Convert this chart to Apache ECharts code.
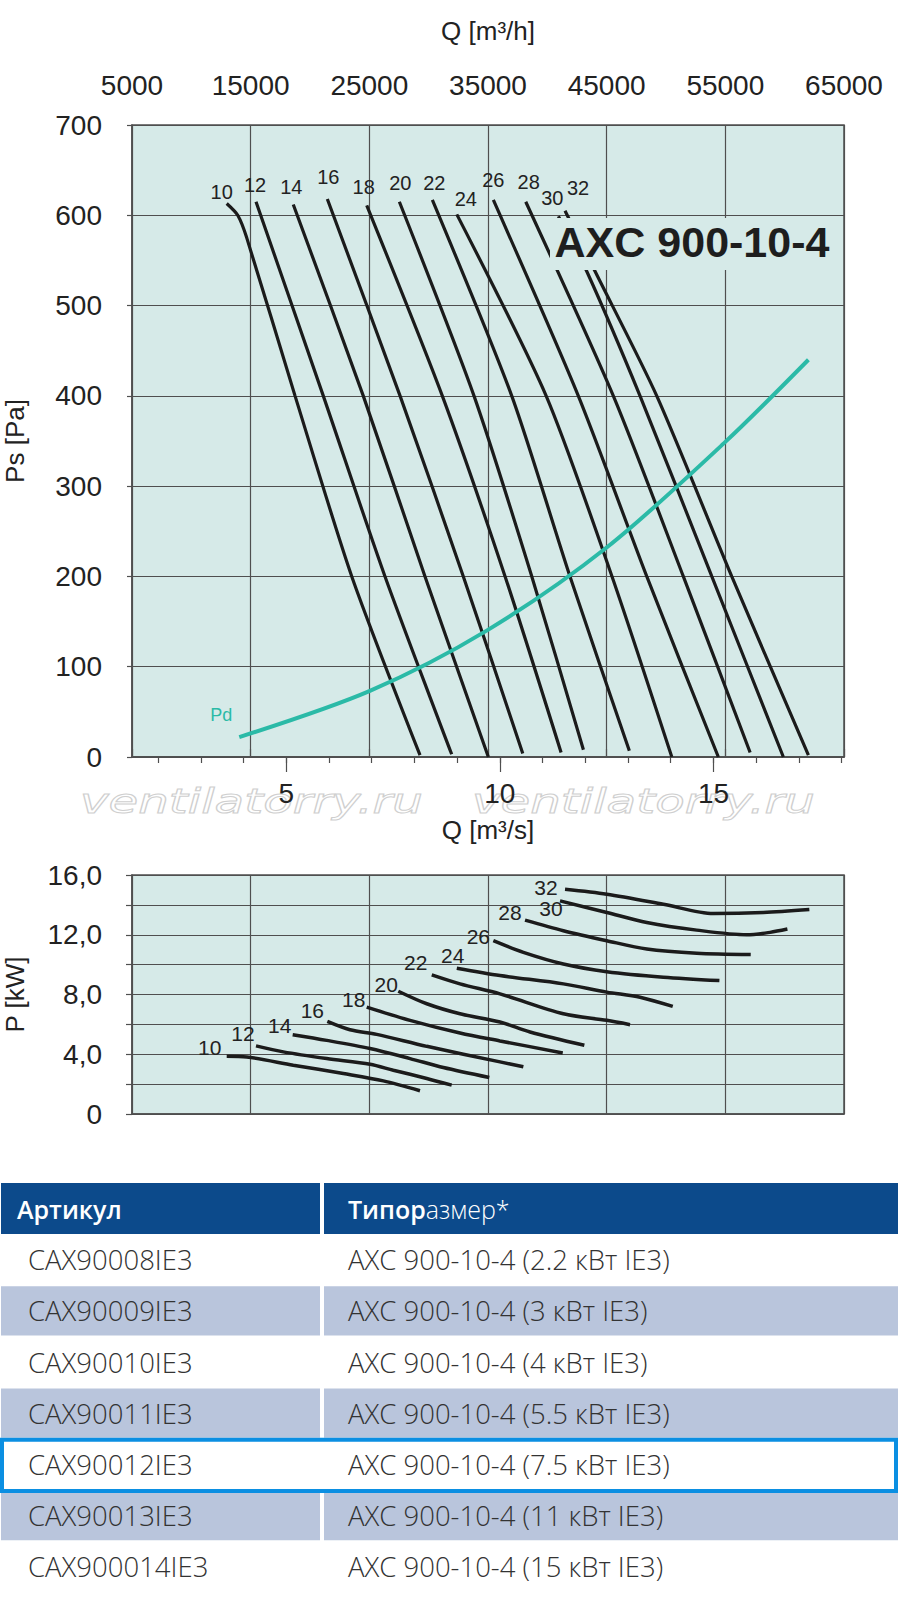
<!DOCTYPE html>
<html>
<head>
<meta charset="utf-8">
<script src="https://cdn.jsdelivr.net/npm/echarts@6/dist/echarts.min.js"></script>
<style>
  html, body { margin: 0; padding: 0; background: #fff; }
  #container { width: 900px; height: 1603px; }
</style>
</head>
<body>
<div id="container"></div>
<script>
// rpm-step curve names
var speeds = ["10", "12", "14", "16", "18", "20", "22", "24", "26", "28", "30", "32"];

// static pressure curves, [Q m3/h, Ps Pa]
var ps10 = [[12980, 613], [13910, 600], [14670, 575], [18740, 400], [23520, 200], [29270, 2]];
var ps12 = [[15450, 615], [21120, 400], [26320, 200], [31940, 3]];
var ps14 = [[18590, 612], [24490, 400], [29690, 200], [35030, 0]];
var ps16 = [[21460, 618], [27590, 400], [32920, 200], [37930, 4]];
var ps18 = [[24780, 611], [31150, 400], [36440, 200], [41160, 5]];
var ps20 = [[27530, 615], [33820, 400], [38690, 200], [43040, 8]];
var ps22 = [[30310, 617], [37000, 400], [41910, 200], [46910, 7]];
var ps24 = [[32370, 601], [39900, 400], [45450, 200], [50490, 0]];
var ps26 = [[35450, 617], [42610, 400], [48380, 200], [54410, 0]];
var ps28 = [[38180, 615], [45560, 400], [51460, 200], [57090, 5]];
var ps30 = [[40930, 599], [43320, 538], [47810, 400], [53860, 200], [59890, 0]];
var ps32 = [[41490, 605], [44020, 538], [49220, 400], [55540, 200], [62000, 2]];

// dynamic pressure
var pdCurve = [[14040, 22], [25000, 73], [34890, 140], [45000, 232], [55000, 349], [62000, 440]];

// shaft power curves, [Q m3/h, P kW]
var kw10 = [[12980, 3.87], [14670, 3.82], [18590, 3.27], [22810, 2.71], [26180, 2.22], [29270, 1.56]];
var kw12 = [[15450, 4.56], [17750, 4.16], [21410, 3.71], [25060, 3.33], [27020, 2.93], [29840, 2.38], [31940, 1.93]];
var kw14 = [[18540, 5.31], [21410, 4.93], [25060, 4.38], [28430, 3.71], [31240, 3.11], [35110, 2.44]];
var kw16 = [[21460, 6.2], [23370, 5.64], [25620, 5.33], [29840, 4.53], [36010, 3.49], [37980, 3.16]];
var kw18 = [[24780, 7.16], [28430, 6.27], [32640, 5.42], [36010, 4.89], [41300, 4.09]];
var kw20 = [[27440, 8.22], [29840, 7.38], [32640, 6.71], [36010, 6.16], [38540, 5.49], [43120, 4.6]];
var kw22 = [[30260, 9.31], [32640, 8.71], [36010, 8.04], [41350, 6.71], [45010, 6.27], [46970, 5.98]];
var kw24 = [[32370, 9.76], [36010, 9.27], [41350, 8.71], [45010, 8.16], [47810, 7.82], [50570, 7.2]];
var kw26 = [[35450, 11.6], [37980, 10.82], [41350, 10.04], [45010, 9.53], [49780, 9.16], [54500, 8.93]];
var kw28 = [[38120, 12.98], [41350, 12.27], [45010, 11.6], [48380, 11.04], [52590, 10.76], [57140, 10.67]];
var kw30 = [[41070, 14.27], [45010, 13.49], [48380, 12.82], [52590, 12.31], [56810, 12.0], [58770, 12.16], [60230, 12.38]];
var kw32 = [[41490, 15.04], [45010, 14.71], [49780, 14.04], [53990, 13.42], [58210, 13.49], [62080, 13.69]];

// axes
var qhMin = 5000, qhMax = 65000, qhStep = 10000;
var qsTicks = [2, 3, 4, 5, 6, 7, 8, 9, 10, 11, 12, 13, 14, 15, 16, 17, 18];
var qsLabels = [5, 10, 15];
var kwTicks = [0, 2, 4, 6, 8, 10, 12, 14, 16];

// table
var articles = ["CAX90008IE3", "CAX90009IE3", "CAX90010IE3", "CAX90011IE3", "CAX90012IE3", "CAX90013IE3", "CAX900014IE3"];
var sizes = ["AXC 900-10-4 (2.2 кВт IE3)", "AXC 900-10-4 (3 кВт IE3)", "AXC 900-10-4 (4 кВт IE3)", "AXC 900-10-4 (5.5 кВт IE3)", "AXC 900-10-4 (7.5 кВт IE3)", "AXC 900-10-4 (11 кВт IE3)", "AXC 900-10-4 (15 кВт IE3)"];
var selectedRow = 4;

var psCurves = [ps10, ps12, ps14, ps16, ps18, ps20, ps22, ps24, ps26, ps28, ps30, ps32];
var kwCurves = [kw10, kw12, kw14, kw16, kw18, kw20, kw22, kw24, kw26, kw28, kw30, kw32];

// label offsets from curve start (px)
var psLabelOff = [[-5, -12], [-1, -17], [-2, -17], [1, -22], [-3, -18], [1, -19], [2, -17], [9, -15], [0, -20], [3, -20], [-6, -18], [13, -23]];
var kwLabelOff = [[-17, -9], [-13, -12], [-13, -9], [-15, -11], [-13, -8], [-12, -7], [-16, -12], [-4, -13], [-15, -4], [-15, -8], [-9, 8], [-19, -2]];

var font = "Liberation Sans, Arial, sans-serif";
var ink = "#222";
var gridCol = "#4f4f4f";
var plotBg = "#d6eae8";
var curveCol = "#1b1b1b";
var teal = "#2bbaa7";

var dom = document.getElementById("container");
var myChart = echarts.init(dom, null, { renderer: "svg" });

function startLabel(text, offset, size, color) {
  return { show: true, position: "inside", formatter: text, offset: offset, fontSize: size, color: color, fontFamily: font };
}

var series = [];
psCurves.forEach(function (pts, i) {
  series.push({
    type: "line",
    xAxisIndex: 0,
    yAxisIndex: 0,
    smooth: 0.25,
    symbol: "circle",
    symbolSize: 0,
    silent: true,
    lineStyle: { color: curveCol, width: 3.2 },
    label: { show: false },
    data: pts.map(function (p, j) {
      return j > 0 ? p : { value: p, label: startLabel(speeds[i], psLabelOff[i], 20, ink) };
    }),
  });
});
series.push({
  type: "line",
  xAxisIndex: 0,
  yAxisIndex: 0,
  smooth: 0.3,
  symbol: "circle",
  symbolSize: 0,
  silent: true,
  lineStyle: { color: teal, width: 4 },
  label: { show: false },
  data: pdCurve.map(function (p, j) {
    return j > 0 ? p : { value: p, label: startLabel("Pd", [-18, -22], 18, teal) };
  }),
});
kwCurves.forEach(function (pts, i) {
  series.push({
    type: "line",
    xAxisIndex: 3,
    yAxisIndex: 1,
    smooth: 0.3,
    symbol: "circle",
    symbolSize: 0,
    silent: true,
    lineStyle: { color: curveCol, width: 3.5 },
    label: { show: false },
    data: pts.map(function (p, j) {
      return j > 0 ? p : { value: p, label: startLabel(speeds[i], kwLabelOff[i], 21, ink) };
    }),
  });
});

// table drawn as graphic elements
var graphics = [];
var rowTop = 1234, rowH = 51.2, headTop = 1183, headH = 51;
var colSplit = 320, col2 = 324, tableRight = 898;
var cellFont = { fontSize: 27.5, fontFamily: "Open Sans, sans-serif", fill: "#333" };
graphics.push({ type: "rect", shape: { x: 1, y: headTop, width: colSplit - 1, height: headH }, style: { fill: "#0c4a8b" }, z: 10 });
graphics.push({ type: "rect", shape: { x: col2, y: headTop, width: tableRight - col2, height: headH }, style: { fill: "#0c4a8b" }, z: 10 });
graphics.push({
  type: "text", x: 17, y: headTop + headH / 2, z: 11,
  style: { text: "Артикул", fill: "#fff", fontSize: 25, fontWeight: 600, fontFamily: "Open Sans, sans-serif", verticalAlign: "middle" },
});
graphics.push({
  type: "text", x: 348, y: headTop + headH / 2, z: 11,
  style: {
    text: "{b|Типор}{n|азмер*}",
    verticalAlign: "middle",
    rich: {
      b: { fill: "#fff", fontSize: 25, fontWeight: 600, fontFamily: "Open Sans, sans-serif" },
      n: { fill: "#fff", fontSize: 25, fontWeight: 300, fontFamily: "Open Sans, sans-serif" },
    },
  },
});
articles.forEach(function (a, i) {
  var y = rowTop + i * rowH;
  if (i % 2 === 1) {
    graphics.push({ type: "rect", shape: { x: 1, y: y + 1, width: colSplit - 1, height: rowH - 2 }, style: { fill: "#b9c5dc" }, z: 10 });
    graphics.push({ type: "rect", shape: { x: col2, y: y + 1, width: tableRight - col2, height: rowH - 2 }, style: { fill: "#b9c5dc" }, z: 10 });
  }
  graphics.push({ type: "text", x: 28, y: y + rowH / 2, z: 11, style: Object.assign({ text: a, verticalAlign: "middle", fontWeight: 300 }, cellFont) });
  graphics.push({ type: "text", x: 348, y: y + rowH / 2, z: 11, style: Object.assign({ text: sizes[i], verticalAlign: "middle", fontWeight: 300 }, cellFont) });
});
graphics.push({
  type: "rect", z: 12,
  shape: { x: 2, y: rowTop + selectedRow * rowH + 1, width: tableRight - 4, height: rowH },
  style: { fill: "none", stroke: "#0b8fe2", lineWidth: 4 },
});

// model title over the curves
graphics.push({ type: "rect", shape: { x: 550, y: 218, width: 284, height: 52 }, style: { fill: plotBg }, z: 50 });
graphics.push({
  type: "text", x: 692, y: 242, z: 51,
  style: { text: "AXC 900-10-4", fill: "#1e1e1e", fontSize: 43, fontWeight: "bold", fontFamily: font, align: "center", verticalAlign: "middle" },
});

// watermark
[80, 472].forEach(function (x) {
  graphics.push({
    type: "text", x: x, y: 801, scaleX: 1.42, z: 0, silent: true,
    style: { text: "ventilatorry.ru", fontSize: 34, fontStyle: "italic", fontFamily: "DejaVu Sans", fill: "rgba(255,255,255,0)", stroke: "#cfcfcf", lineWidth: 1, verticalAlign: "middle" },
  });
});

var option;

option = {
  animation: false,
  textStyle: { fontFamily: font },
  grid: [
    { left: 132, top: 125, width: 712, height: 632, show: true, backgroundColor: plotBg, borderColor: gridCol, borderWidth: 1.5, containLabel: false, outerBoundsMode: "none" },
    { left: 132, top: 875, width: 712, height: 239, show: true, backgroundColor: plotBg, borderColor: gridCol, borderWidth: 1.5, containLabel: false, outerBoundsMode: "none" },
  ],
  xAxis: [
    {
      gridIndex: 0, type: "value", position: "top", min: qhMin, max: qhMax, interval: qhStep,
      name: "Q [m³/h]", nameLocation: "middle", nameGap: 81,
      nameTextStyle: { fontSize: 26, color: ink },
      axisLine: { show: true, lineStyle: { color: gridCol, width: 1.5 } },
      axisTick: { show: true, length: 8, lineStyle: { color: gridCol, width: 1.2 } },
      axisLabel: { fontSize: 28, color: ink, margin: 26, formatter: function (v) { return String(v); } },
      splitLine: { show: true, lineStyle: { color: gridCol, width: 1.2 } },
    },
    {
      gridIndex: 0, type: "value", position: "bottom", min: qhMin / 3600, max: qhMax / 3600,
      axisLine: { show: true, lineStyle: { color: gridCol, width: 1.5 } },
      axisTick: { show: true, length: 6, customValues: qsTicks, lineStyle: { color: gridCol, width: 1.2 } },
      axisLabel: { show: false },
      splitLine: { show: false },
    },
    {
      gridIndex: 0, type: "value", position: "bottom", min: qhMin / 3600, max: qhMax / 3600,
      name: "Q [m³/s]", nameLocation: "middle", nameGap: 60,
      nameTextStyle: { fontSize: 26, color: ink },
      axisLine: { show: false },
      axisTick: { show: true, length: 15, customValues: qsLabels, lineStyle: { color: gridCol, width: 1.2 } },
      axisLabel: { show: true, customValues: qsLabels, fontSize: 28, color: ink, margin: 22 },
      splitLine: { show: false },
    },
    {
      gridIndex: 1, type: "value", position: "bottom", min: qhMin, max: qhMax, interval: qhStep,
      axisLine: { show: true, lineStyle: { color: gridCol, width: 1.5 } },
      axisTick: { show: false },
      axisLabel: { show: false },
      splitLine: { show: true, lineStyle: { color: gridCol, width: 1.2 } },
    },
  ],
  yAxis: [
    {
      gridIndex: 0, type: "value", min: 0, max: 700, interval: 100,
      name: "Ps [Pa]", nameLocation: "middle", nameGap: 104,
      nameTextStyle: { fontSize: 26, color: ink },
      axisLine: { show: true, lineStyle: { color: gridCol, width: 1.5 } },
      axisTick: { show: true, length: 5, lineStyle: { color: gridCol, width: 1.2 } },
      axisLabel: { fontSize: 28, color: ink, margin: 30 },
      splitLine: { show: true, lineStyle: { color: gridCol, width: 1.2 } },
    },
    {
      gridIndex: 1, type: "value", min: 0, max: 16, interval: 4,
      name: "P [kW]", nameLocation: "middle", nameGap: 104,
      nameTextStyle: { fontSize: 26, color: ink },
      axisLine: { show: true, lineStyle: { color: gridCol, width: 1.5 } },
      axisTick: { show: true, length: 6, customValues: kwTicks, lineStyle: { color: gridCol, width: 1.2 } },
      axisLabel: {
        fontSize: 28, color: ink, margin: 30,
        formatter: function (v) { return v === 0 ? "0" : v.toFixed(1).replace(".", ","); },
      },
      splitLine: { show: true, lineStyle: { color: gridCol, width: 1.2 } },
    },
  ],
  graphic: { elements: graphics },
  series: series,
};

if (option && typeof option === "object") {
  myChart.setOption(option);
}

window.addEventListener("resize", myChart.resize);
</script>
</body>
</html>
